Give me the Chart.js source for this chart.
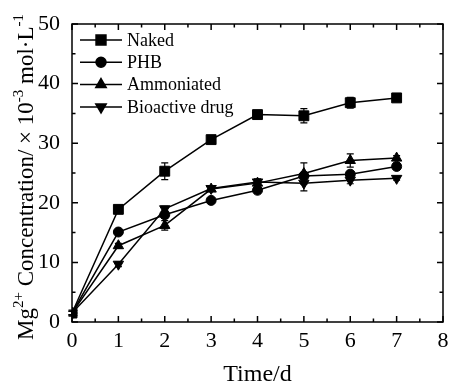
<!DOCTYPE html>
<html>
<head>
<meta charset="utf-8">
<script src="https://cdn.jsdelivr.net/npm/chart.js@4/dist/chart.umd.min.js"></script>
<style>
  html, body { margin: 0; background: #fff; }
  #wrap { width: 450px; height: 389px; }
</style>
</head>
<body>
<div id="wrap"><canvas id="c"></canvas></div>
<script>
const days = [0, 1, 2, 3, 4, 5, 6, 7];
const xTicks = [0, 1, 2, 3, 4, 5, 6, 7, 8];
const yTicks = [0, 10, 20, 30, 40, 50];

const naked      = [1.5, 18.9, 25.3, 30.6, 34.8, 34.6, 36.8, 37.6];
const nakedErr   = [0.5, 0.4, 1.4, 0.4, 0.3, 1.2, 0.9, 0.5];
const phb        = [1.5, 15.1, 18.0, 20.4, 22.1, 24.5, 24.8, 26.1];
const phbErr     = [0.3, 0.3, 0.6, 0.3, 0.4, 0.6, 0.5, 0.3];
const ammon      = [1.5, 12.8, 16.2, 22.3, 23.3, 24.9, 27.1, 27.5];
const ammonErr   = [0.3, 0.4, 0.8, 0.3, 0.4, 1.8, 1.1, 0.4];
const bioactive  = [1.5, 9.7, 19.0, 22.4, 23.5, 23.3, 23.8, 24.1];
const bioErr     = [0.3, 0.4, 0.4, 0.3, 0.5, 1.3, 0.6, 0.3];

const seriesNames = ["Naked", "PHB", "Ammoniated", "Bioactive drug"];
const FONT = "'Liberation Serif', 'Times New Roman', serif";

function pts(arr) { return days.map((d, i) => ({ x: d, y: arr[i] })); }

function ds(label, arr, err, style, radius, rot) {
  return {
    label, data: pts(arr), errors: err,
    borderColor: "#000", backgroundColor: "#000", borderWidth: 1.5,
    pointStyle: style, pointRadius: radius, pointRotation: rot || 0,
    pointBorderWidth: 1, pointBorderColor: "#000", pointBackgroundColor: "#000",
    tension: 0, fill: false
  };
}

// error bars, drawn through the scales
const errorBars = {
  id: "errorBars",
  afterDatasetsDraw(chart) {
    const { ctx, scales: { x, y } } = chart;
    ctx.save();
    ctx.strokeStyle = "#000"; ctx.lineWidth = 1.2;
    chart.data.datasets.forEach(d => {
      d.data.forEach((p, i) => {
        const e = d.errors[i];
        if (!e) return;
        const px = x.getPixelForValue(p.x);
        const y1 = y.getPixelForValue(p.y + e), y2 = y.getPixelForValue(p.y - e);
        ctx.beginPath();
        ctx.moveTo(px, y1); ctx.lineTo(px, y2);
        ctx.moveTo(px - 3.5, y1); ctx.lineTo(px + 3.5, y1);
        ctx.moveTo(px - 3.5, y2); ctx.lineTo(px + 3.5, y2);
        ctx.stroke();
      });
    });
    ctx.restore();
  }
};

// box frame with inward ticks on all four sides
const frame = {
  id: "frame",
  afterDraw(chart) {
    const { ctx, chartArea: a, scales: { x, y } } = chart;
    ctx.save();
    ctx.strokeStyle = "#000"; ctx.lineWidth = 1.5;
    ctx.strokeRect(a.left, a.top, a.right - a.left, a.bottom - a.top);
    ctx.beginPath();
    for (let v = 0; v <= 8; v += 0.5) {
      const px = x.getPixelForValue(v), len = v % 1 === 0 ? 6 : 3.5;
      ctx.moveTo(px, a.bottom); ctx.lineTo(px, a.bottom - len);
      ctx.moveTo(px, a.top); ctx.lineTo(px, a.top + len);
    }
    for (let v = 0; v <= 50; v += 5) {
      const py = y.getPixelForValue(v), len = v % 10 === 0 ? 6 : 3.5;
      ctx.moveTo(a.left, py); ctx.lineTo(a.left + len, py);
      ctx.moveTo(a.right, py); ctx.lineTo(a.right - len, py);
    }
    ctx.stroke();
    ctx.restore();
  }
};

// legend in the upper left of the plot
const insideLegend = {
  id: "insideLegend",
  afterDraw(chart) {
    const { ctx, chartArea: a } = chart;
    ctx.save();
    chart.data.datasets.forEach((d, i) => {
      const yy = a.top + 16 + i * 22.3;
      const x0 = a.left + 8, x1 = a.left + 50;
      ctx.strokeStyle = "#000"; ctx.lineWidth = 1.5;
      ctx.beginPath(); ctx.moveTo(x0, yy); ctx.lineTo(x1, yy); ctx.stroke();
      ctx.fillStyle = "#000";
      Chart.helpers.drawPoint(ctx, {
        pointStyle: d.pointStyle, radius: d.pointRadius, rotation: d.pointRotation, borderWidth: 1
      }, (x0 + x1) / 2, yy);
      ctx.font = "18px " + FONT;
      ctx.textBaseline = "middle"; ctx.textAlign = "left";
      ctx.fillText(seriesNames[i], x1 + 5, yy + 1);
    });
    ctx.restore();
  }
};

// rotated y title with superscripts
const yTitle = {
  id: "yTitle",
  afterDraw(chart) {
    const { ctx, chartArea: a } = chart;
    const parts = [["Mg", 0], ["2+", 1], [" Concentration/ \u00d7 10", 0], ["-3", 1], [" mol\u00b7L", 0], ["-1", 1]];
    const big = "23px " + FONT, small = "15px " + FONT;
    ctx.save();
    let total = 0;
    parts.forEach(p => { ctx.font = p[1] ? small : big; total += ctx.measureText(p[0]).width; });
    ctx.translate(33, (a.top + a.bottom) / 2 + 4);
    ctx.rotate(-Math.PI / 2);
    ctx.fillStyle = "#000"; ctx.textBaseline = "alphabetic"; ctx.textAlign = "left";
    let cx = -total / 2;
    parts.forEach(p => {
      ctx.font = p[1] ? small : big;
      ctx.fillText(p[0], cx, p[1] ? -10 : 0);
      cx += ctx.measureText(p[0]).width;
    });
    ctx.restore();
  }
};

new Chart(document.getElementById("c"), {
  type: "line",
  data: {
    datasets: [
      ds(seriesNames[0], naked, nakedErr, "rect", 7),
      ds(seriesNames[1], phb, phbErr, "circle", 5),
      ds(seriesNames[2], ammon, ammonErr, "triangle", 6),
      ds(seriesNames[3], bioactive, bioErr, "triangle", 6, 180)
    ]
  },
  options: {
    responsive: true, maintainAspectRatio: false, animation: false,
    layout: { padding: { top: 24, right: 7, left: 0, bottom: 0 }, autoPadding: false },
    plugins: { legend: { display: false }, tooltip: { enabled: false } },
    scales: {
      x: {
        type: "linear", min: 0, max: 8,
        afterBuildTicks: s => { s.ticks = xTicks.map(v => ({ value: v })); },
        ticks: { color: "#000", font: { family: FONT, size: 22 }, padding: -2, maxRotation: 0 },
        grid: { display: false }, border: { display: false },
        title: { display: true, text: "Time/d", color: "#000", font: { family: FONT, size: 24 }, padding: { top: 0, bottom: 0 } },
        afterFit: s => { s.height = 67; }
      },
      y: {
        min: 0, max: 50,
        afterBuildTicks: s => { s.ticks = yTicks.map(v => ({ value: v })); },
        ticks: { color: "#000", font: { family: FONT, size: 22 }, padding: 4 },
        grid: { display: false }, border: { display: false },
        afterFit: s => { s.width = 72; }
      }
    }
  },
  plugins: [errorBars, frame, insideLegend, yTitle]
});
</script>
</body>
</html>
